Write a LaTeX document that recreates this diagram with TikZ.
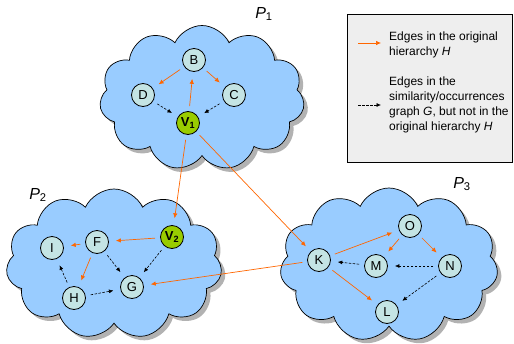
\documentclass[tikz,border=0pt]{standalone}
\usepackage{fontspec}
\setmainfont{Liberation Sans}
\usetikzlibrary{shapes.symbols,shadows,arrows.meta}
\definecolor{cloudBlue}{RGB}{153,204,255}
\definecolor{nodeCyan}{RGB}{196,228,228}
\definecolor{vGreen}{RGB}{153,204,0}
\definecolor{edgeOrange}{RGB}{255,102,0}
\definecolor{legendGray}{RGB}{238,238,238}
\begin{document}
\begin{tikzpicture}
[x=1pt,y=-1pt,
  cloudDecorate/.style={shape=cloud,cloud puffs=11,cloud puff arc=130,cloud ignores aspect,draw,line width=0.7pt,fill=cloudBlue,%
    drop shadow={shadow xshift=4pt,shadow yshift=-4pt,fill=black!60}},
  nodeDecorate/.style={shape=circle,inner sep=0pt,minimum size=23pt,draw,line width=0.8pt,fill=nodeCyan,font=\fontsize{13}{14}\selectfont},
  vDecorate/.style={nodeDecorate,fill=vGreen},
  partLabel/.style={font=\fontsize{16}{17}\selectfont,inner sep=0pt},
  hierEdge/.style={-{Latex[length=5pt,width=4.5pt]},draw=edgeOrange,line width=0.7pt,shorten >=7pt,shorten <=5pt},
  simEdge/.style={-{Latex[length=4.5pt,width=4pt]},draw=black,line width=0.6pt,dash pattern=on 2.5pt off 1.5pt,shorten >=7pt,shorten <=5pt},
  legendText/.style={align=left,inner sep=0pt,anchor=west,font=\fontsize{12}{15}\selectfont}]
\useasboundingbox (0,0) rectangle (514,343);
%% clouds
\node (cloudP1) at (202,98) [cloudDecorate,minimum width=205pt,minimum height=145pt] {};
\node (cloudP2) at (114,264) [cloudDecorate,minimum width=216pt,minimum height=150pt] {};
\node (cloudP3) at (389,265) [cloudDecorate,minimum width=218pt,minimum height=154pt] {};
\node (labelP1) at (264,14) [partLabel] {\textit{P}\textsubscript{1}};
\node (labelP2) at (38,195) [partLabel] {\textit{P}\textsubscript{2}};
\node (labelP3) at (462,184) [partLabel] {\textit{P}\textsubscript{3}};
%% nodes or vertices
\foreach \nodename/\x/\y in {B/194/60, D/143/95, C/234/95,
  I/52/248, F/97/242, H/74/298, G/132/287,
  O/410/226, K/319/260, M/376/266, N/450/266, L/387/312}
{
  \node (\nodename) at (\x,\y) [nodeDecorate] {\nodename};
}
\node (V1) at (188,123) [vDecorate] {\textbf{V}\textsubscript{\textbf{1}}};
\node (V2) at (172,237) [vDecorate] {\textbf{V}\textsubscript{\textbf{2}}};
%% edges of the hierarchy
\path
\foreach \startnode/\endnode in {B/D, B/C, V1/B, V1/V2, V1/K, V2/F, F/I, F/H,
  K/G, K/O, K/L, O/M, O/N}
{
  (\startnode) edge[hierEdge] (\endnode)
};
%% edges of the similarity graph
\path
\foreach \startnode/\endnode in {D/V1, C/V1, V2/G, F/G, H/I, H/G, M/K, N/M, N/L}
{
  (\startnode) edge[simEdge] (\endnode)
};
%% legend
\node (legendBox) at (429.5,88) [draw,line width=0.8pt,fill=legendGray,minimum width=165pt,minimum height=148pt] {};
\coordinate (hierStart) at (358,43);
\coordinate (hierEnd) at (381,43);
\coordinate (simStart) at (358,105);
\coordinate (simEnd) at (381,105);
\draw[hierEdge,shorten >=0pt,shorten <=0pt] (hierStart) -- (hierEnd);
\draw[simEdge,shorten >=0pt,shorten <=0pt] (simStart) -- (simEnd);
\node (hierText) at (389,45) [legendText] {Edges in the original\\hierarchy \textit{H}};
\node (simText) at (389,105) [legendText] {Edges in the\\similarity/occurrences\\graph \textit{G}, but not in the\\original hierarchy \textit{H}};
\end{tikzpicture}
\end{document}
